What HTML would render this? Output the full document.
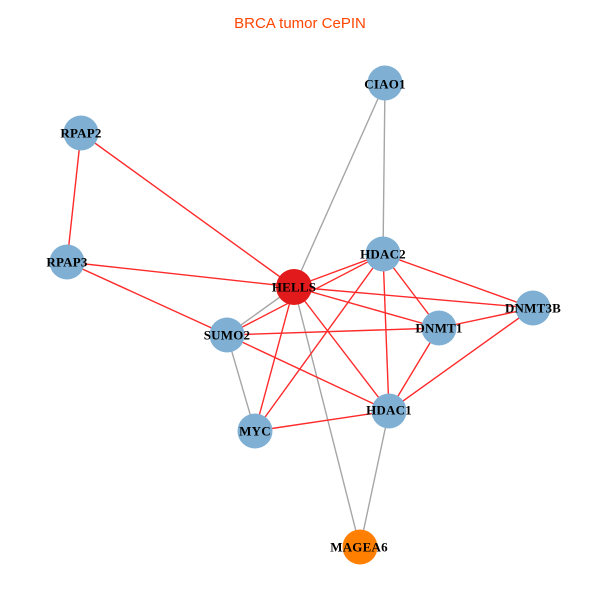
<!DOCTYPE html>
<html>
<head>
<meta charset="utf-8">
<style>
html,body{margin:0;padding:0;background:#fff;}
svg{display:block;}
.lbl{font-family:"Liberation Serif",serif;font-weight:bold;font-size:13px;fill:#000;text-anchor:middle;dominant-baseline:central;letter-spacing:0.2px;}
</style>
</head>
<body>
<svg width="600" height="600" viewBox="0 0 600 600" xmlns="http://www.w3.org/2000/svg">
<rect width="600" height="600" fill="#fff"/>
<text x="300" y="28" font-family="Liberation Sans, sans-serif" font-size="15" fill="#ff4500" text-anchor="middle">BRCA tumor CePIN</text>
<g stroke="#a6a6a6" stroke-width="1.4" fill="none">
<line x1="385" y1="83" x2="294" y2="287"/>
<line x1="385" y1="83" x2="383" y2="254"/>
<line x1="294" y1="287" x2="227" y2="335"/>
<line x1="294" y1="287" x2="360" y2="547"/>
<line x1="227" y1="335" x2="255" y2="431"/>
<line x1="389" y1="411" x2="360" y2="547"/>
</g>
<g stroke="#ff2a2a" stroke-width="1.4" fill="none">
<line x1="81" y1="133" x2="67" y2="262"/>
<line x1="81" y1="133" x2="294" y2="287"/>
<line x1="67" y1="262" x2="294" y2="287"/>
<line x1="67" y1="262" x2="227" y2="335"/>
<line x1="294" y1="287" x2="383" y2="254"/>
<line x1="294" y1="287" x2="533" y2="308"/>
<line x1="294" y1="287" x2="439" y2="328"/>
<line x1="294" y1="287" x2="389" y2="411"/>
<line x1="294" y1="287" x2="255" y2="431"/>
<line x1="227" y1="335" x2="383" y2="254"/>
<line x1="227" y1="335" x2="439" y2="328"/>
<line x1="227" y1="335" x2="389" y2="411"/>
<line x1="383" y1="254" x2="255" y2="431"/>
<line x1="383" y1="254" x2="533" y2="308"/>
<line x1="383" y1="254" x2="439" y2="328"/>
<line x1="383" y1="254" x2="389" y2="411"/>
<line x1="439" y1="328" x2="533" y2="308"/>
<line x1="439" y1="328" x2="389" y2="411"/>
<line x1="533" y1="308" x2="389" y2="411"/>
<line x1="255" y1="431" x2="389" y2="411"/>
</g>
<g>
<circle cx="385" cy="83" r="17.5" fill="#7fb0d3"/>
<circle cx="81" cy="133" r="17.5" fill="#7fb0d3"/>
<circle cx="67" cy="262" r="17.5" fill="#7fb0d3"/>
<circle cx="294" cy="287" r="18" fill="#e31a1c"/>
<circle cx="383" cy="254" r="17.5" fill="#7fb0d3"/>
<circle cx="533" cy="308" r="17.5" fill="#7fb0d3"/>
<circle cx="439" cy="328" r="17.5" fill="#7fb0d3"/>
<circle cx="227" cy="335" r="17.5" fill="#7fb0d3"/>
<circle cx="389" cy="411" r="17.5" fill="#7fb0d3"/>
<circle cx="255" cy="431" r="17.5" fill="#7fb0d3"/>
<circle cx="360" cy="547" r="17.5" fill="#ff8000"/>
</g>
<g>
<text class="lbl" x="385" y="84">CIAO1</text>
<text class="lbl" x="81" y="133">RPAP2</text>
<text class="lbl" x="67" y="262">RPAP3</text>
<text class="lbl" x="294" y="287">HELLS</text>
<text class="lbl" x="383" y="254">HDAC2</text>
<text class="lbl" x="533" y="308">DNMT3B</text>
<text class="lbl" x="439" y="328">DNMT1</text>
<text class="lbl" x="227" y="335">SUMO2</text>
<text class="lbl" x="389" y="410">HDAC1</text>
<text class="lbl" x="255" y="431">MYC</text>
<text class="lbl" x="359" y="547">MAGEA6</text>
</g>
</svg>
</body>
</html>
